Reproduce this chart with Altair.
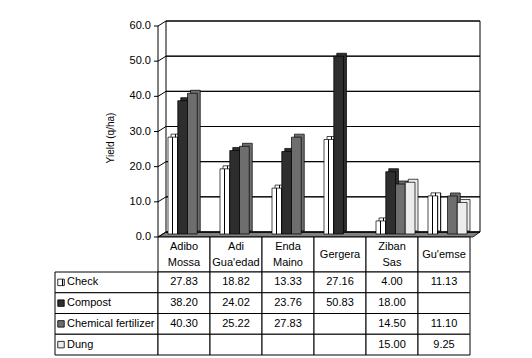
import altair as alt
import pandas as pd

categories = ["Adibo Mossa", "Adi Gua'edad", "Enda Maino", "Gergera", "Ziban Sas", "Gu'emse"]
series = ["Check", "Compost", "Chemical fertilizer", "Dung"]
check = [27.83, 18.82, 13.33, 27.16, 4.00, 11.13]
compost = [38.20, 24.02, 23.76, 50.83, 18.00, None]
chemical = [40.30, 25.22, 27.83, None, 14.50, 11.10]
dung = [None, None, None, None, 15.00, 9.25]
y_ticks = [0, 10, 20, 30, 40, 50, 60]
y_title = ["Yield (q/ha)"]

values = {"Check": check, "Compost": compost, "Chemical fertilizer": chemical, "Dung": dung}
rows = []
for s in series:
    for c, v in zip(categories, values[s]):
        rows.append({"category": c, "series": s, "value": v,
                     "label": "" if v is None else f"{v:.2f}"})
df = pd.DataFrame(rows)
bars_df = df[df["value"].notna()].copy()

FONT = "Liberation Sans"
W, H = 312, 211
LW = 103
HDR_H = 35
BODY_H = 83
DEPTH_X, DEPTH_Y = 8, 5


def stripes(n=4, dark=0.3):
    stops = []
    for i in range(n):
        a = i / n
        b = a + (1 - dark) / n
        c = (i + 1) / n
        stops += [alt.GradientStop(offset=a, color="white"),
                  alt.GradientStop(offset=b, color="white"),
                  alt.GradientStop(offset=b, color="black"),
                  alt.GradientStop(offset=c, color="black")]
    return alt.LinearGradient(gradient="linear", stops=stops, x1=0, x2=1, y1=0, y2=0)


fills = {
    "Check": stripes(),
    "Compost": "#2e2e2e",
    "Chemical fertilizer": "#6e6e6e",
    "Dung": "#ececec",
}

xscale = alt.Scale(domain=categories, paddingInner=0, paddingOuter=0)
yscale = alt.Scale(domain=[0, 60], nice=False, zero=True)

x_enc = alt.X("category:N", sort=categories, scale=xscale, axis=None)
y_tick = alt.Y("tick:Q", scale=yscale, axis=None)

# --- bar chart ---------------------------------------------------------
grid_df = pd.DataFrame({"tick": y_ticks})
gbase = alt.Chart(grid_df)

side = gbase.mark_rule(color="black", strokeWidth=1, y2Offset=-DEPTH_Y).encode(
    y=y_tick, y2=alt.Y2("tick"), x=alt.value(0), x2=alt.value(DEPTH_X))

ticks = gbase.mark_rule(color="black", strokeWidth=1).encode(
    y=y_tick, y2=alt.Y2("tick"), x=alt.value(-4), x2=alt.value(0))

tick_labels = gbase.mark_text(font=FONT, fontSize=11, align="right", baseline="middle",
                              color="black").encode(
    y=y_tick, x=alt.value(-7), text=alt.Text("tick:Q", format=".1f"))

# back-wall gridlines
line_df = pd.DataFrame({"g": y_ticks})
y_g = alt.Y("g:Q", scale=yscale, axis=None)
grid_b = alt.Chart(line_df).mark_rule(color="black", strokeWidth=1, yOffset=-DEPTH_Y).encode(
    y=y_g, x=alt.value(DEPTH_X), x2=alt.value(W + 10))
grid_c = alt.Chart(line_df).transform_calculate(
    gw=f"datum.g + 60 * {DEPTH_Y} / {H}"
).mark_rule(color="black", strokeWidth=1).encode(
    y=alt.Y("gw:Q", scale=yscale, axis=None), x=alt.value(DEPTH_X), x2=alt.value(W + 10))

edge_df = pd.DataFrame({"lo": [0], "hi": [60]})
ebase = alt.Chart(edge_df)
y_edge = alt.Y("hi:Q", scale=yscale, axis=None)

domain = ebase.mark_rule(color="black", strokeWidth=1).encode(
    x=alt.value(0), y=y_edge, y2=alt.Y2("lo"))

wall_l = ebase.mark_rule(color="black", strokeWidth=1, yOffset=-DEPTH_Y,
                         y2Offset=-DEPTH_Y).encode(
    x=alt.value(DEPTH_X), y=y_edge, y2=alt.Y2("lo"))

wall_r = ebase.mark_rule(color="black", strokeWidth=1, yOffset=-DEPTH_Y,
                         y2Offset=-DEPTH_Y).encode(
    x=alt.value(W + 10), y=y_edge, y2=alt.Y2("lo"))

floor_path = "M-1,0.0155L0.9565,0.0155L1,-0.0155L-0.9503,-0.0155Z"
floor = ebase.mark_point(
    shape=floor_path, size=(2 * 161) ** 2, filled=True, fill="#808080",
    stroke="black", strokeWidth=0.8, opacity=1, yOffset=-2.5
).encode(x=alt.value(161), y=alt.Y("lo:Q", scale=yscale, axis=None))

title = alt.Chart(pd.DataFrame({"t": y_title})).mark_text(
    font=FONT, fontSize=10, angle=270, align="center", baseline="middle", color="black"
).encode(x=alt.value(-47), y=alt.value(112), text="t:N")

bar_layers = []
for s in series:
    base = alt.Chart(bars_df).transform_filter(alt.datum.series == s)
    depth = base.mark_bar(fill=fills[s], stroke="black", strokeWidth=0.7,
                          yOffset=-5, y2Offset=-6).encode(
        x=x_enc,
        xOffset=alt.XOffset("series:N", scale=alt.Scale(domain=series, paddingInner=0,
                                                        paddingOuter=0.6667, align=1.0)),
        y=alt.Y("value:Q", scale=yscale, axis=None), y2=alt.datum(0),
    )
    front = base.mark_bar(fill=fills[s], stroke="black", strokeWidth=0.7,
                          yOffset=-2, y2Offset=-3).encode(
        x=x_enc,
        xOffset=alt.XOffset("series:N", scale=alt.Scale(domain=series, paddingInner=0,
                                                        paddingOuter=0.6667, align=0.77)),
        y=alt.Y("value:Q", scale=yscale, axis=None), y2=alt.datum(0),
    )
    bar_layers += [depth, front]

bars = alt.layer(floor, side, ticks, tick_labels, domain, wall_l, wall_r, title,
                 grid_b, grid_c, *bar_layers).resolve_scale(
    xOffset="independent"
).properties(width=W, height=H)

# --- table header --------------------------------------------------------
l1, l2, mid = [], [], []
for c in categories:
    parts = c.split(" ")
    if len(parts) == 2:
        l1.append(parts[0]); l2.append(parts[1]); mid.append("")
    else:
        l1.append(""); l2.append(""); mid.append(c)
hdr_df = pd.DataFrame({"category": categories, "l1": l1, "l2": l2, "mid": mid})
hdr_txt = alt.Chart(hdr_df).mark_text(font=FONT, fontSize=11, baseline="middle", color="black")
hdr = alt.layer(
    alt.Chart(hdr_df).mark_rect(fill="white", stroke="black", strokeWidth=1).encode(
        x=x_enc, y=alt.value(0), y2=alt.value(HDR_H)),
    hdr_txt.encode(x=x_enc, y=alt.value(9.5), text="l1:N"),
    hdr_txt.encode(x=x_enc, y=alt.value(26), text="l2:N"),
    hdr_txt.encode(x=x_enc, y=alt.value(17.5), text="mid:N"),
).properties(width=W, height=HDR_H)

# --- table body -----------------------------------------------------------
y_rows = alt.Y("series:N", sort=series, scale=alt.Scale(domain=series, paddingInner=0,
                                                       paddingOuter=0), axis=None)
body = alt.layer(
    alt.Chart(df).mark_rect(fill="white", stroke="black", strokeWidth=1).encode(
        x=x_enc, y=y_rows),
    alt.Chart(df).mark_text(font=FONT, fontSize=11, color="black").encode(
        x=x_enc, y=y_rows, text="label:N"),
).properties(width=W, height=BODY_H)

lab_df = pd.DataFrame({"series": series})
icon_layers = []
for s in series:
    icon_layers.append(
        alt.Chart(lab_df).transform_filter(alt.datum.series == s).mark_square(
            size=42, filled=True, fill=fills[s], stroke="black", strokeWidth=0.8, opacity=1
        ).encode(x=alt.value(6), y=y_rows)
    )
labels = alt.layer(
    alt.Chart(lab_df).mark_rect(fill="white", stroke="black", strokeWidth=1).encode(
        x=alt.value(0), x2=alt.value(LW), y=y_rows),
    *icon_layers,
    alt.Chart(lab_df).mark_text(font=FONT, fontSize=11, color="black", align="left").encode(
        x=alt.value(12), y=y_rows, text="series:N"),
).properties(width=LW, height=BODY_H)


def spacer(h):
    return alt.Chart(pd.DataFrame({"a": [0]})).mark_point(
        opacity=0, size=1, strokeWidth=0
    ).encode(x=alt.value(LW / 2), y=alt.value(h / 2)).properties(width=LW, height=h)


chart = alt.concat(
    spacer(H), bars,
    spacer(HDR_H), hdr,
    labels, body,
    columns=2, spacing=0, bounds="flush", align="each",
).properties(
    padding={"left": 46, "top": 12, "right": 5, "bottom": 5}
).configure(font=FONT).configure_view(strokeWidth=0, stroke="transparent")

chart.save("out.html", embed_options={"renderer": "svg", "actions": False})
